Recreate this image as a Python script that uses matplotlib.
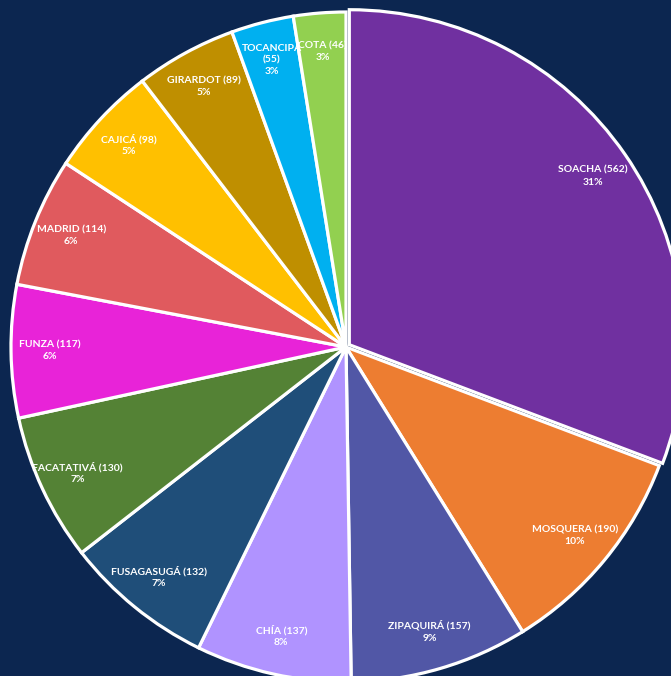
import matplotlib
matplotlib.use("Agg")
import matplotlib.pyplot as plt

categories = ["SOACHA", "MOSQUERA", "ZIPAQUIRÁ", "CHÍA", "FUSAGASUGÁ", "FACATATIVÁ",
              "FUNZA", "MADRID", "CAJICÁ", "GIRARDOT", "TOCANCIPÁ", "COTA"]
values = [562, 190, 157, 137, 132, 130, 117, 114, 98, 89, 55, 46]
percents = [31, 10, 9, 8, 7, 7, 6, 6, 5, 5, 3, 3]
colors = ["#7030A0", "#ED7D31", "#5157A6", "#B093FF", "#1F4E79", "#548235",
          "#E823D8", "#E05A5E", "#FFC000", "#BF8F00", "#00B0F0", "#92D050"]

bg = "#0C2650"
W, H = 671, 676
cx, cy, R = 346, 347, 335

fig = plt.figure(figsize=(W / 100, H / 100), dpi=100, facecolor=bg)
ax = fig.add_axes([0, 0, 1, 1])
ax.set_facecolor(bg)

labels = []
for c, v, p in zip(categories, values, percents):
    if c == "TOCANCIPÁ":
        labels.append(f"{c}\n({v})\n{p}%")
    else:
        labels.append(f"{c} ({v})\n{p}%")

explode = [0.012] + [0] * (len(values) - 1)
wedges, texts = ax.pie(values, colors=colors, startangle=90, counterclock=False,
                       explode=explode, labels=labels, labeldistance=0.885,
                       wedgeprops=dict(edgecolor="white", linewidth=2.3),
                       textprops=dict(color="white", fontsize=7.5, fontweight="bold",
                                      family="Lato", ha="center", va="center",
                                      linespacing=1.4))
for t in texts:
    t.set_ha("center")
    t.set_va("center")
    t.set_clip_on(False)
    t.set_zorder(5)

ax.set_aspect("auto")
ax.set_xlim(-cx / R, (W - cx) / R)
ax.set_ylim((cy - H) / R, cy / R)
ax.axis("off")

fig.savefig("out.png", dpi=100, facecolor=bg)
